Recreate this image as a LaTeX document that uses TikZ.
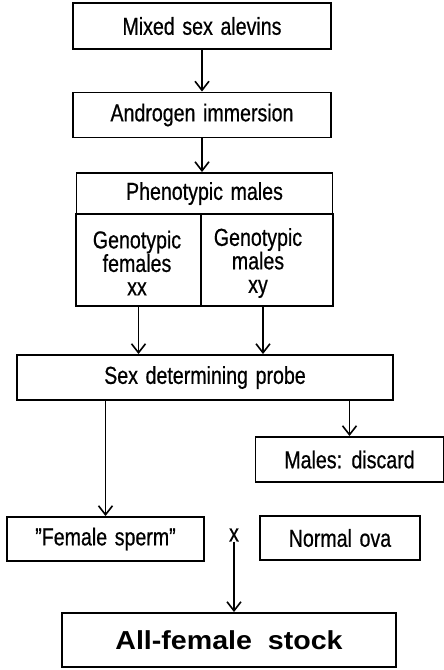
\documentclass[tikz,border=0pt]{standalone}
\usepackage{fontspec}
\setmainfont{Liberation Sans}[FakeStretch=0.8,WordSpace=1.4,FakeBold=0.6]
\newfontfamily\bigbold{Liberation Sans Bold}[FakeStretch=1.1,WordSpace=2]
\usetikzlibrary{arrows.meta,calc}
\begin{document}
\begin{tikzpicture}[x=1pt,y=-1pt,
  box/.style={draw,line width=1.9pt,inner sep=0pt,font=\fontsize{24.5}{23.5}\selectfont},
  lbl/.style={inner sep=0pt,align=center,font=\fontsize{24.5}{23.5}\selectfont},
  arr/.style={line width=1.6pt,-{Straight Barb[length=9pt,width=14pt,line width=1.6pt]}}]
\useasboundingbox (0,0) rectangle (444,670);
\node[box,minimum width=258pt,minimum height=46pt] (mix) at (202,26) {Mixed sex alevins};
\node[box,minimum width=258pt,minimum height=45pt] (andr) at (202,115) {Androgen immersion};
\node[box,minimum width=256pt,minimum height=41pt] (ph) at (204.5,193.5) {Phenotypic males};
\node[box,minimum width=125pt,minimum height=92pt] (gf) at (138.5,260) {};
\node[box,minimum width=132pt,minimum height=92pt] (gm) at (267,260) {};
\node[lbl] (gft) at (137,263) {Genotypic\\females\\xx};
\node[lbl] (gmt) at (258,263) {Genotypic\\males\\xy};
\node[box,minimum width=376pt,minimum height=45pt] (sdp) at (205,377.5) {Sex determining probe};
\node[box,minimum width=188pt,minimum height=45pt] (md) at (349.5,459.5) {Males: discard};
\node[box,minimum width=197pt,minimum height=44pt] (fs) at (105.5,539) {\symbol{34}Female sperm\symbol{34}};
\node[lbl] (xx) at (234,535) {x};
\node[box,minimum width=160pt,minimum height=44pt] (no) at (340,538) {Normal ova};
\node[box,minimum width=334pt,minimum height=54pt,font=\bigbold\fontsize{26}{28}\selectfont] (afs) at (229,640) {All-female stock};
\draw[arr] (mix) -- (andr);
\draw[arr] (andr.south) -- (andr.south |- ph.north);
\draw[arr] (gf.south) -- (gf.south |- sdp.north);
\draw[arr] ($(gm.south)+(-4,0)$) -- ($(gm.south |- sdp.north)+(-4,0)$);
\draw[arr] (fs.north |- sdp.south) -- (fs.north);
\draw[arr] (md.north |- sdp.south) -- (md.north);
\draw[arr] (xx.south) -- (xx.south |- afs.north);
\end{tikzpicture}
\end{document}
